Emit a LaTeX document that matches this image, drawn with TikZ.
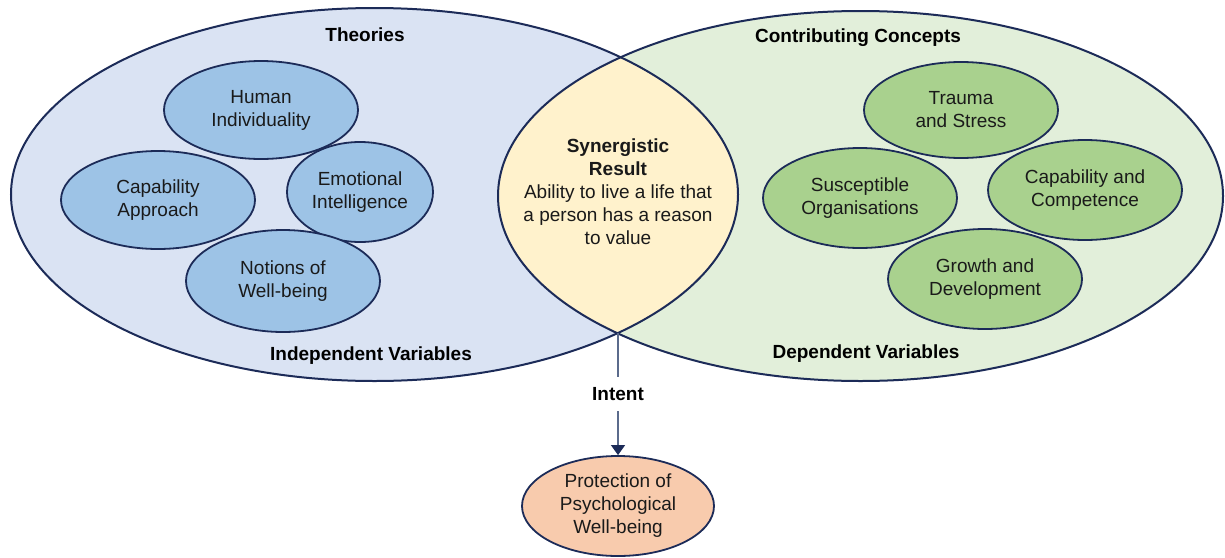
\documentclass[tikz,border=0pt]{standalone}
\usepackage{fontspec}
\setmainfont{Liberation Sans}
\usetikzlibrary{shapes.geometric,arrows.meta}

\definecolor{outline}{HTML}{1C2B58}
\definecolor{leftbg}{HTML}{DAE3F3}
\definecolor{rightbg}{HTML}{E2EFDA}
\definecolor{lensbg}{HTML}{FFF2CC}
\definecolor{bluebub}{HTML}{9DC3E6}
\definecolor{greenbub}{HTML}{A9D18E}
\definecolor{peach}{HTML}{F8CBAD}
\definecolor{txt}{HTML}{1A1A1A}
\definecolor{linkline}{HTML}{5B6B8C}

\begin{document}
\begin{tikzpicture}[x=1pt,y=-1pt,
  font=\fontsize{19}{23}\selectfont, text=txt,
  bubble/.style={ellipse, draw=outline, line width=1.8pt, inner sep=0pt,
    align=center, minimum width=194pt, minimum height=98pt},
  bluebubble/.style={bubble, fill=bluebub},
  greenbubble/.style={bubble, fill=greenbub},
  heading/.style={font=\fontsize{19}{23}\selectfont\bfseries, text=black},
  bigring/.style={draw=outline, line width=2pt},
  intentlink/.style={draw=linkline, line width=1.2pt,
    -{Triangle[width=14pt,length=10pt,color=outline]}}
]
\useasboundingbox (0,0) rectangle (1225,557);

% two overlapping fields and their shared lens
\fill[leftbg] (374.5,194.5) ellipse [x radius=363.5pt, y radius=186.5pt];
\fill[rightbg] (860.5,196) ellipse [x radius=362.5pt, y radius=185pt];
\begin{scope}
  \clip (374.5,194.5) ellipse [x radius=363.5pt, y radius=186.5pt];
  \fill[lensbg] (860.5,196) ellipse [x radius=362.5pt, y radius=185pt];
\end{scope}
\draw[bigring] (374.5,194.5) ellipse [x radius=363.5pt, y radius=186.5pt];
\draw[bigring] (860.5,196) ellipse [x radius=362.5pt, y radius=185pt];

% headings
\node[heading] (theories) at (365,35) {Theories};
\node[heading] (contrib) at (858,38) {Contributing Concepts};
\node[heading] (indep) at (371,356) {Independent Variables};
\node[heading] (dep) at (866,354) {Dependent Variables};

% theories
\node[bluebubble] (human) at (261,110) {Human\\Individuality};
\node[bluebubble] (capapp) at (158,200) {Capability\\Approach};
\node[bluebubble, minimum width=146pt, minimum height=100pt] (emo) at (360,192) {Emotional\\Intelligence};
\node[bluebubble, minimum height=102pt] (notions) at (283,281) {Notions of\\Well-being};

% contributing concepts
\node[greenbubble, minimum height=96pt] (trauma) at (961,110) {Trauma\\and Stress};
\node[greenbubble, minimum height=100pt] (suscept) at (860,198) {Susceptible\\Organisations};
\node[greenbubble, minimum height=100pt] (capcomp) at (1085,190) {Capability and\\Competence};
\node[greenbubble, minimum height=100pt] (growth) at (985,279) {Growth and\\Development};

% synergistic result inside the lens
\node[align=center] (result) at (618,192)
  {\textbf{Synergistic}\\\textbf{Result}\\Ability to live a life that\\a person has a reason\\to value};

% outcome
\node[bubble, fill=peach, minimum width=192pt, minimum height=100pt] (protect) at (618,506)
  {Protection of\\Psychological\\Well-being};

\coordinate (lensbottom) at (618,333);
\draw[intentlink] (lensbottom) -- node[fill=white, inner xsep=2pt, inner ysep=10pt, heading] (intent) {Intent} (protect.north);
\end{tikzpicture}
\end{document}
